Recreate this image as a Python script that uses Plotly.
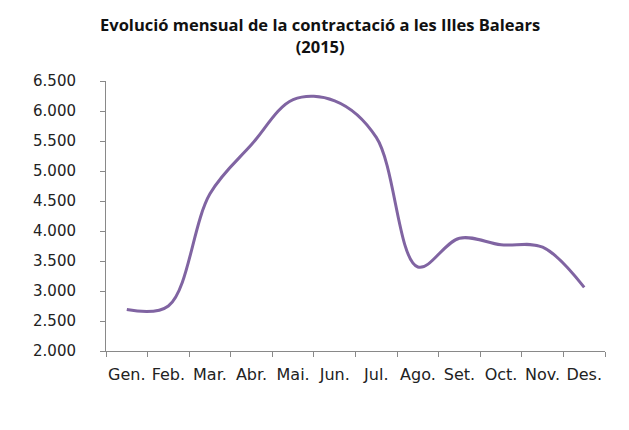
import plotly.graph_objects as go

months = ["Gen.", "Feb.", "Mar.", "Abr.", "Mai.", "Jun.", "Jul.", "Ago.", "Set.", "Oct.", "Nov.", "Des."]
contractes = [2690, 2750, 4620, 5440, 6190, 6170, 5560, 3400, 3880, 3770, 3730, 3060]
y_ticks = [2000, 2500, 3000, 3500, 4000, 4500, 5000, 5500, 6000, 6500]

TITLE_FONT = "Open Sans"
TICK_FONT = "DejaVu Sans"

fig = go.Figure()
fig.add_trace(go.Scatter(
    x=months, y=contractes, mode="lines",
    line=dict(color="#8064A2", width=3, shape="spline", smoothing=1),
    hoverinfo="x+y", showlegend=False,
))

fig.update_layout(
    width=629, height=430,
    margin=dict(l=106, r=24, t=81, b=79),
    paper_bgcolor="white", plot_bgcolor="white",
    separators=",.",
    font=dict(family=TICK_FONT, color="#222222"),
    title=dict(
        text="<b>Evolució mensual de la contractació a les Illes Balears<br>(2015)</b>",
        x=0.509, xanchor="center", yref="container", y=0.927, yanchor="top",
        font=dict(family=TITLE_FONT, size=16.5, color="#111111"),
    ),
)
fig.update_xaxes(
    type="category", range=[-0.5, 11.5],
    showline=True, linecolor="#898989", linewidth=1,
    ticks="outside", ticklen=5, tickcolor="#898989", tickson="boundaries",
    showgrid=False, zeroline=False, tickangle=0,
    tickfont=dict(family=TICK_FONT, size=16, color="#222222"),
    ticklabelstandoff=9,
)
fig.update_yaxes(
    range=[2000, 6500], tickvals=y_ticks, tickformat=",d",
    showline=True, linecolor="#898989", linewidth=1,
    ticks="outside", ticklen=5, tickcolor="#898989",
    showgrid=False, zeroline=False,
    tickfont=dict(family=TICK_FONT, size=15, color="#222222"),
    ticklabelstandoff=21,
)

fig.write_html(
    "out.html",
    config={"displayModeBar": False},
    post_script="document.body.style.margin='0';document.body.style.overflow='hidden';",
)
